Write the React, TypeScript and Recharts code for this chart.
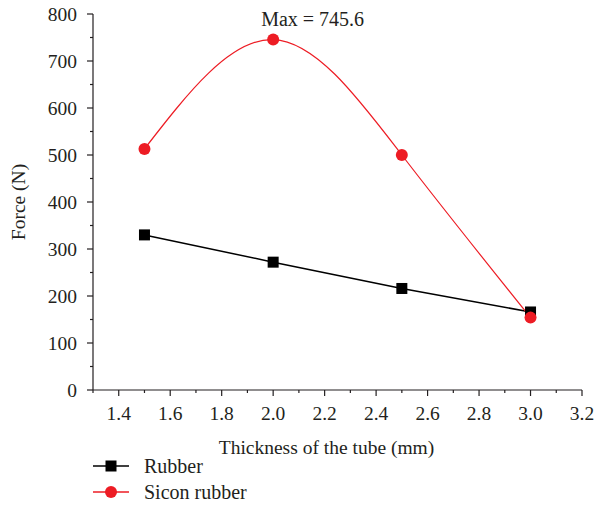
import {
    LineChart,
    Line,
    XAxis,
    YAxis,
    Legend,
} from "recharts";

const thickness = [1.5, 2.0, 2.5, 3.0];
const rubberForce = [330, 272, 216, 166];
const siconForce = [513, 745.6, 500, 154];
const xTicks = [1.3, 1.4, 1.5, 1.6, 1.7, 1.8, 1.9, 2.0, 2.1, 2.2, 2.3, 2.4, 2.5, 2.6, 2.7, 2.8, 2.9, 3.0, 3.1, 3.2];
const yTicks = [0, 50, 100, 150, 200, 250, 300, 350, 400, 450, 500, 550, 600, 650, 700, 750, 800];

const data = thickness.map((t, i) => ({ t, rubber: rubberForce[i], sicon: siconForce[i] }));

const FONT = "'Liberation Serif', 'DejaVu Serif', serif";
const RED = "#ed1c24";
const INK = "#231f20";

// ticks drawn by hand so minor ticks can be shorter than major ones
const XTick = (props: any) => {
    const { x, y, payload } = props;
    const v = payload.value;
    const major = Math.round(v * 10) % 2 === 0;
    const top = y - 14;
    return (
        <g>
            <line x1={x} x2={x} y1={top} y2={top + (major ? 6 : 3)} stroke={INK} strokeWidth={1.2} />
            {major && (
                <text x={x} y={y + 16} textAnchor="middle" fontSize={19.5} fontFamily={FONT} fill={INK}>
                    {v.toFixed(1)}
                </text>
            )}
        </g>
    );
};

const YTick = (props: any) => {
    const { x, y, payload } = props;
    const v = payload.value;
    const major = v % 100 === 0;
    const right = x + 8;
    return (
        <g>
            <line x1={right} x2={right - (major ? 6 : 3)} y1={y} y2={y} stroke={INK} strokeWidth={1.2} />
            {major && (
                <text x={x - 8} y={y + 6.5} textAnchor="end" fontSize={19.5} fontFamily={FONT} fill={INK}>
                    {v}
                </text>
            )}
        </g>
    );
};

const SquareDot = (props: any) => {
    const { cx, cy } = props;
    return <rect x={cx - 5.5} y={cy - 5.5} width={11} height={11} fill="#000" />;
};

const MaxLabel = (props: any) => {
    const { x, y, index } = props;
    if (index !== 1) return null;
    return (
        <text x={x - 12} y={y - 14} fontSize={20} fontFamily={FONT} fill={INK}>
            Max = 745.6
        </text>
    );
};

const LegendBox = () => (
    <div style={{ fontFamily: FONT, fontSize: 20, color: INK }}>
        {[
            { name: "Rubber", color: "#000", square: true },
            { name: "Sicon rubber", color: RED, square: false },
        ].map((it) => (
            <div key={it.name} style={{ display: "flex", alignItems: "center", height: 26 }}>
                <svg width={51} height={14}>
                    <line x1={0} x2={36} y1={7} y2={7} stroke={it.color} strokeWidth={1.5} />
                    {it.square ? (
                        <rect x={12.5} y={1.5} width={11} height={11} fill={it.color} />
                    ) : (
                        <circle cx={18} cy={7} r={6} fill={it.color} />
                    )}
                </svg>
                <span>{it.name}</span>
            </div>
        ))}
    </div>
);

export default function App() {
    return (
        <div style={{ position: "absolute", left: 0, top: 0 }}>
            <LineChart
                width={596}
                height={513}
                data={data}
                margin={{ top: 14, right: 14, left: 0, bottom: 53 }}
            >
                <XAxis
                    dataKey="t"
                    type="number"
                    domain={[1.3, 3.2]}
                    ticks={xTicks}
                    interval={0}
                    axisLine={{ stroke: INK, strokeWidth: 1.2 }}
                    tickLine={false}
                    tickSize={6}
                    tickMargin={8}
                    tick={<XTick />}
                    height={70}
                    label={{
                        value: "Thickness of the tube (mm)",
                        position: "insideTop",
                        offset: 50,
                        dx: -11,
                        style: { fontFamily: FONT, fontSize: 19.5, fill: INK },
                    }}
                />
                <YAxis
                    type="number"
                    domain={[0, 800]}
                    ticks={yTicks}
                    interval={0}
                    width={93}
                    axisLine={{ stroke: INK, strokeWidth: 1.2 }}
                    tickLine={false}
                    tickSize={5}
                    tickMargin={3}
                    tick={<YTick />}
                    label={{
                        value: "Force (N)",
                        angle: -90,
                        position: "insideLeft",
                        offset: 18,
                        style: { fontFamily: FONT, fontSize: 19.5, fill: INK, textAnchor: "middle" },
                    }}
                />
                <Legend
                    layout="vertical"
                    align="center"
                    verticalAlign="middle"
                    content={<LegendBox />}
                    wrapperStyle={{ top: 453, left: 93, width: 250 }}
                />
                <Line
                    type="linear"
                    dataKey="rubber"
                    stroke="#000"
                    strokeWidth={1.5}
                    dot={<SquareDot />}
                    isAnimationActive={false}
                />
                <Line
                    type="natural"
                    dataKey="sicon"
                    stroke={RED}
                    strokeWidth={1.2}
                    dot={{ r: 6, fill: RED, stroke: RED, strokeWidth: 0 }}
                    label={<MaxLabel />}
                    isAnimationActive={false}
                />
            </LineChart>
        </div>
    );
}
